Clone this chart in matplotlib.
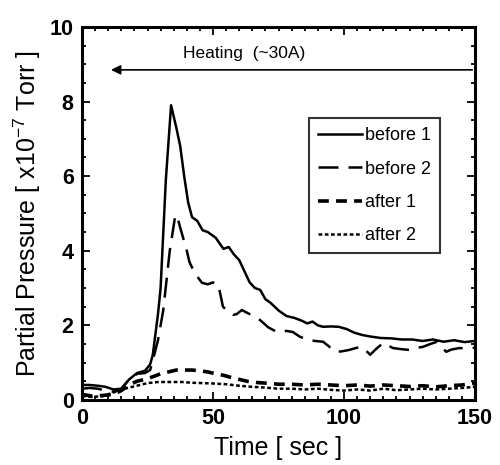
import matplotlib
matplotlib.use("Agg")
import matplotlib.pyplot as plt
from matplotlib.ticker import MultipleLocator

plt.rcParams["font.family"] = ["Liberation Sans", "DejaVu Sans"]
plt.rcParams["mathtext.fontset"] = "custom"
plt.rcParams["mathtext.rm"] = "Liberation Sans"

# ── DATA ──────────────────────────────────────────────────────────────────────
before1_t = [0, 3, 6, 9, 12, 15, 18, 21, 24, 26, 27, 29, 30, 32, 34, 36, 37.5,
             39, 40.5, 42, 44, 46, 48, 51, 54, 56, 58, 60, 62, 64, 66, 68, 70,
             72, 75, 78, 81, 84, 86, 88, 90, 92, 95, 98, 101, 104, 107, 110,
             114, 118, 122, 126, 130, 134, 138, 142, 146, 150]
before1_p = [0.4, 0.4, 0.38, 0.35, 0.28, 0.3, 0.55, 0.72, 0.78, 0.95, 1.2, 2.3,
             3.0, 5.9, 7.9, 7.3, 6.8, 6.0, 5.3, 4.9, 4.8, 4.55, 4.5, 4.35, 4.05,
             4.1, 3.9, 3.75, 3.45, 3.15, 3.0, 2.95, 2.7, 2.6, 2.4, 2.25, 2.2,
             2.12, 2.05, 2.1, 2.0, 1.96, 1.97, 1.96, 1.9, 1.8, 1.74, 1.7, 1.66,
             1.65, 1.62, 1.62, 1.58, 1.62, 1.56, 1.6, 1.55, 1.58]

before2_t = [0, 3, 6, 9, 12, 15, 18, 21, 24, 26, 27, 29, 31, 33.5, 35.5, 36.2,
             37.4, 40, 41, 43, 45.8, 48, 50, 52, 53.8, 56, 57.6, 59, 61, 64, 68,
             71, 74.4, 78, 80.5, 83, 86, 89, 92, 94, 96.6, 99, 102, 105, 107,
             110, 112, 115, 118.7, 122, 125, 128, 130, 133, 135.5, 139, 141,
             144, 147, 150]
before2_p = [0.3, 0.32, 0.3, 0.25, 0.22, 0.3, 0.55, 0.7, 0.72, 0.8, 1.05, 1.6,
             2.4, 4.0, 4.9, 4.96, 4.64, 4.0, 3.7, 3.4, 3.14, 3.1, 3.15, 3.1, 2.5,
             2.35, 2.28, 2.3, 2.41, 2.3, 2.14, 1.95, 1.82, 1.85, 1.82, 1.7, 1.61,
             1.58, 1.56, 1.45, 1.29, 1.3, 1.34, 1.4, 1.42, 1.21, 1.35, 1.53,
             1.39, 1.36, 1.34, 1.4, 1.42, 1.5, 1.56, 1.29, 1.35, 1.39, 1.38, 1.4]

after1_t = [0, 4, 8, 12, 15, 18, 21, 24, 27, 30, 33, 36, 39, 42, 45, 48, 51,
            54, 57, 60, 63, 66, 70, 75, 80, 85, 90, 95, 100, 105, 110, 115,
            120, 125, 130, 135, 140, 145, 150]
after1_p = [0.15, 0.1, 0.12, 0.15, 0.25, 0.4, 0.5, 0.55, 0.62, 0.7, 0.75, 0.8,
            0.8, 0.8, 0.78, 0.75, 0.7, 0.66, 0.6, 0.55, 0.5, 0.47, 0.45, 0.42,
            0.42, 0.4, 0.42, 0.4, 0.38, 0.4, 0.37, 0.4, 0.38, 0.36, 0.38, 0.35,
            0.38, 0.4, 0.45]

after2_t = [0, 4, 8, 12, 15, 18, 21, 25, 29, 33, 38, 42, 46, 50, 55, 60, 65,
            70, 75, 80, 85, 90, 95, 100, 105, 110, 115, 120, 125, 130, 135,
            140, 145, 150]
after2_p = [0.1, 0.08, 0.1, 0.2, 0.28, 0.33, 0.38, 0.45, 0.48, 0.48, 0.48, 0.46,
            0.45, 0.44, 0.42, 0.38, 0.35, 0.33, 0.3, 0.3, 0.28, 0.3, 0.27, 0.25,
            0.28, 0.25, 0.3, 0.26, 0.28, 0.3, 0.28, 0.3, 0.32, 0.35]

x_ticks = [0, 50, 100, 150]
y_ticks = [0, 2, 4, 6, 8, 10]

# ── PLOT ──────────────────────────────────────────────────────────────────────
fig = plt.figure(figsize=(5.0, 4.65), dpi=100)
ax = fig.add_axes([0.164, 0.14, 0.786, 0.802])

ax.plot(before1_t, before1_p, color="black", lw=1.8, ls="-", label="before 1")
ax.plot(before2_t, before2_p, color="black", lw=1.8, ls=(0, (8, 4)),
        label="before 2")
ax.plot(after1_t, after1_p, color="black", lw=2.6, ls=(0, (3, 2)),
        label="after 1")
ax.plot(after2_t, after2_p, color="black", lw=1.8, ls=(0, (1.5, 1)),
        label="after 2")

ax.annotate("", xy=(10, 8.85), xytext=(150, 8.85),
            arrowprops=dict(arrowstyle="-|>", color="black", lw=1.2,
                            mutation_scale=14))
ax.text(62, 9.3, "Heating  (~30A)", ha="center", va="center", fontsize=12.5)

ax.set_xlim(0, 150)
ax.set_ylim(0, 10)
ax.set_xticks(x_ticks)
ax.set_yticks(y_ticks)
ax.xaxis.set_minor_locator(MultipleLocator(5))
ax.yaxis.set_minor_locator(MultipleLocator(0.5))
ax.tick_params(which="both", direction="in", top=True, right=True, width=1.3)
ax.tick_params(which="major", length=6, labelsize=15.5, pad=6)
ax.tick_params(which="minor", length=3)
for lab in ax.get_xticklabels() + ax.get_yticklabels():
    lab.set_fontweight("bold")
for sp in ax.spines.values():
    sp.set_linewidth(2.2)

ax.set_xlabel("Time [ sec ]", fontsize=18, labelpad=5)
ax.set_ylabel("Partial Pressure [ x10$^{-7}$ Torr ]", fontsize=18, labelpad=5)

leg = ax.legend(loc="upper left", bbox_to_anchor=(0.578, 0.755), fontsize=13,
                frameon=True, fancybox=False, handlelength=2.4,
                handletextpad=0.2, labelspacing=0.9, borderpad=0.5,
                borderaxespad=0.0)
leg.get_frame().set_edgecolor("black")
leg.get_frame().set_linewidth(1.5)

fig.savefig("out.png", dpi=100)
